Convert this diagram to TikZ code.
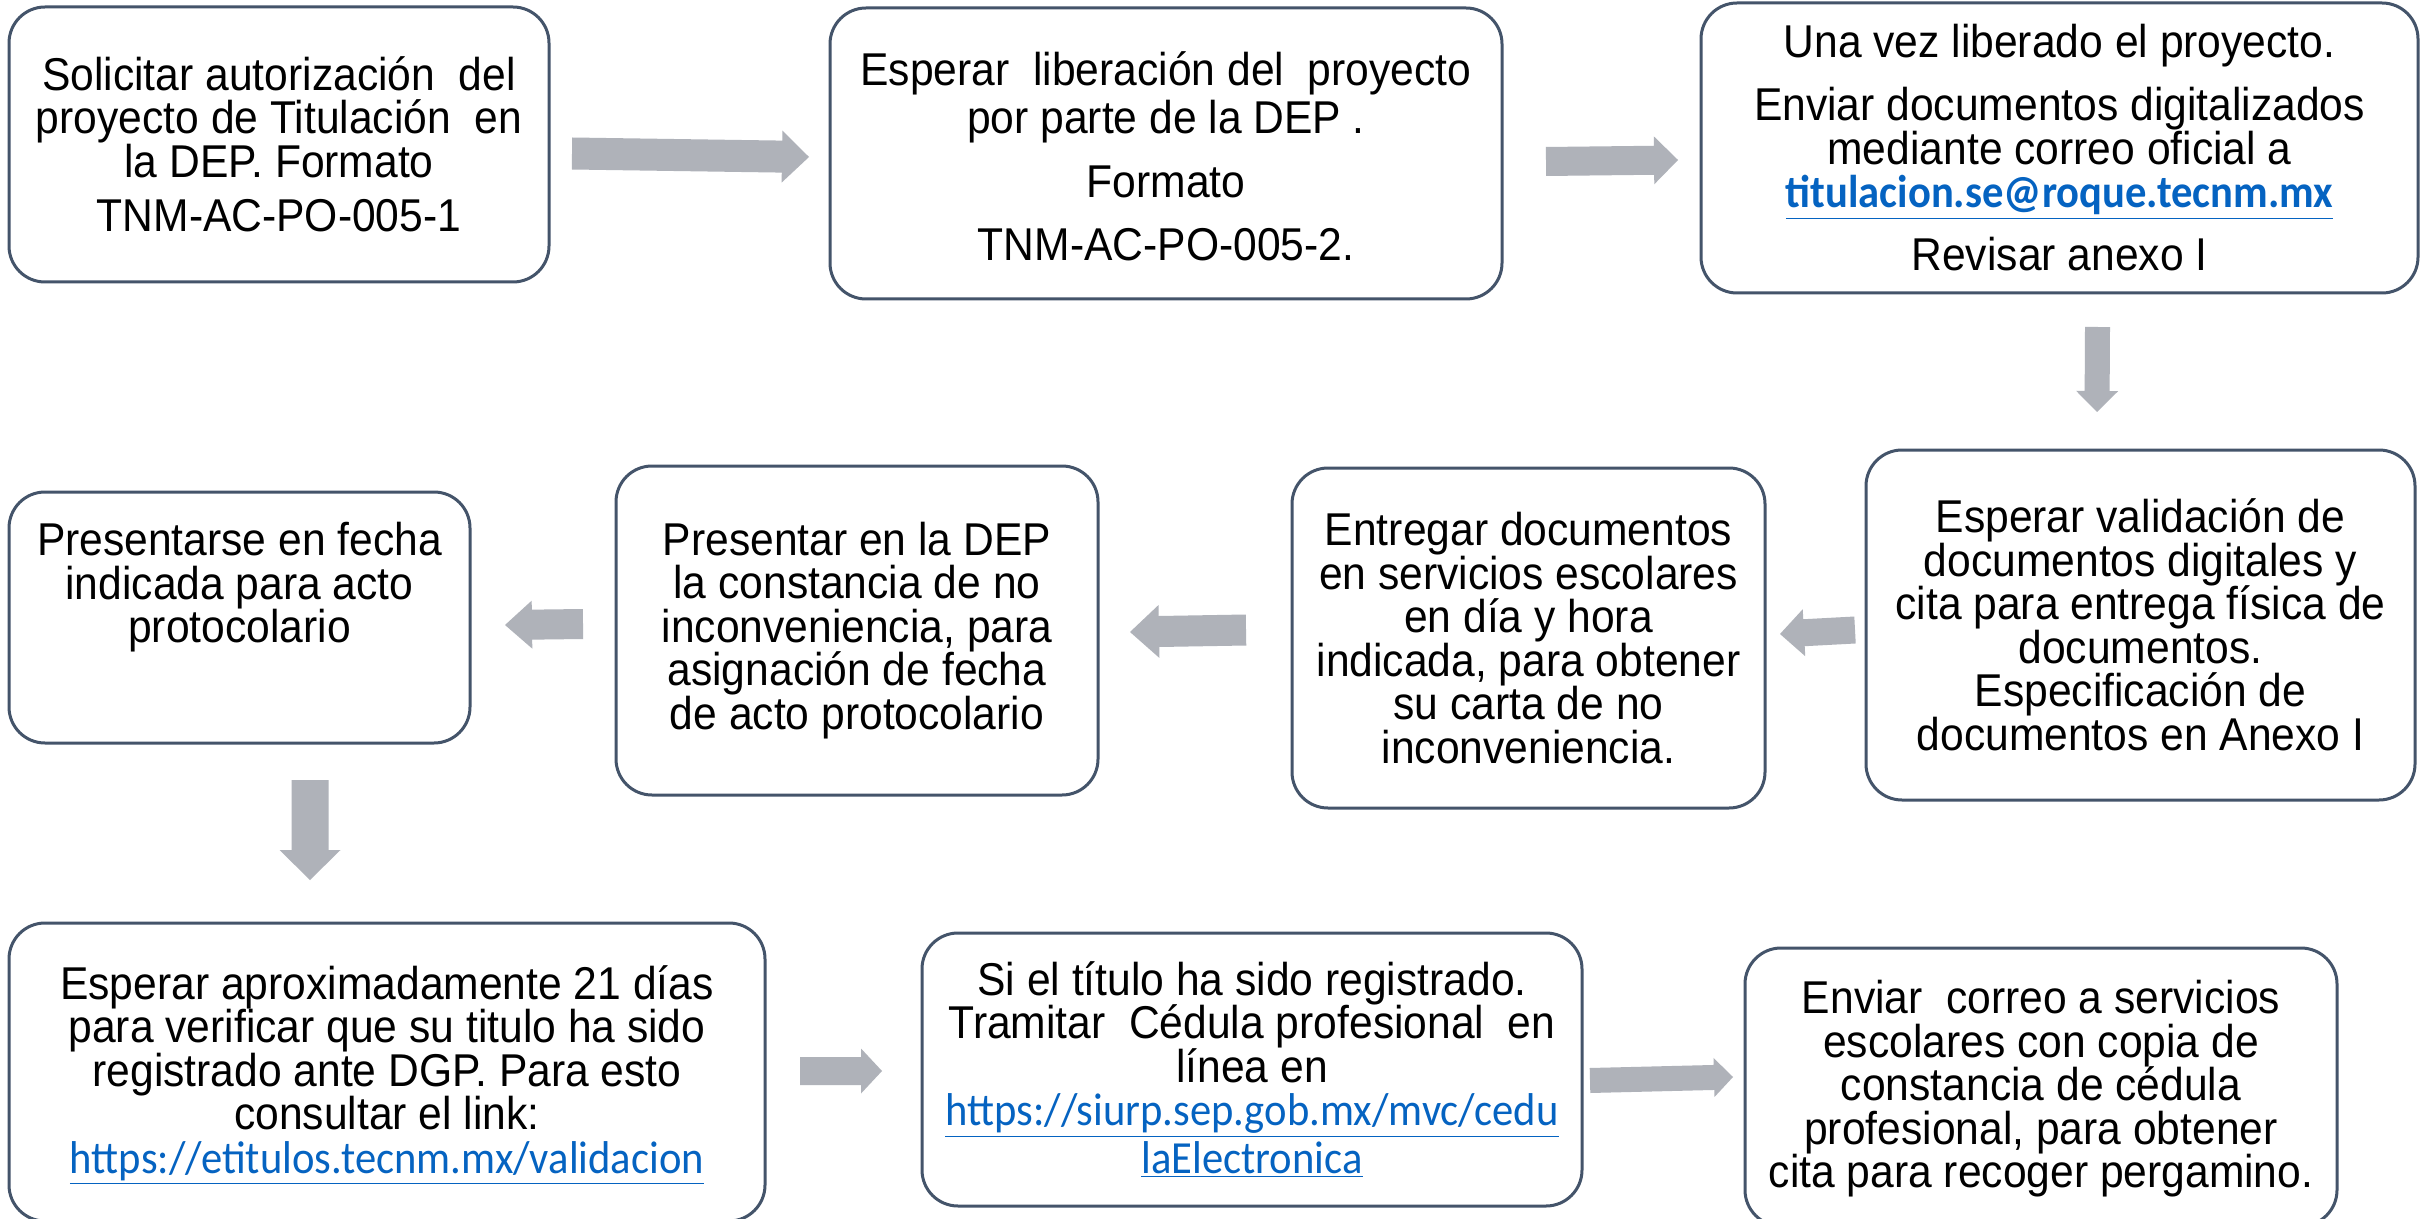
\documentclass[tikz,border=0pt]{standalone}
\usepackage{fontspec}
\setmainfont{Liberation Sans}[FakeStretch=0.926]
\newfontfamily\linkfont{Carlito}[FakeStretch=0.926]
\usetikzlibrary{calc}
\definecolor{boxline}{HTML}{44546A}
\definecolor{arrowgray}{HTML}{AFB2B9}
\definecolor{linkblue}{HTML}{0563C1}
\newcommand{\lnk}[1]{\textcolor{linkblue}{\underline{\linkfont #1}}}
\newcommand{\lnkb}[1]{\textcolor{linkblue}{\underline{\linkfont\bfseries #1}}}
\newcommand{\blockarrow}[5]{%
  \coordinate (ah) at ($(#2)!#5!(#1)$);
  \fill[arrowgray] ($(#1)!#3!90:(#2)$) -- ($(ah)!#3!90:(#2)$) -- ($(ah)!#4!90:(#2)$)
    -- (#2) -- ($(ah)!#4!-90:(#2)$) -- ($(ah)!#3!-90:(#2)$) -- ($(#1)!#3!-90:(#2)$) -- cycle;}
\newcommand{\tightlines}{\fontsize{23}{21.75}\selectfont\lineskiplimit=-30pt\relax}
\begin{document}
\begin{tikzpicture}[x=0.5pt,y=-0.5pt,
  box/.style={draw=boxline, line width=1.5pt, rounded corners=18pt, fill=white, inner sep=0pt},
  txt/.style={align=center, font=\tightlines, inner sep=0pt}]
\fill[white] (0,0) rectangle (2430,1219);
\useasboundingbox (0,0) rectangle (2430,1219);
% boxes
\node[box, minimum width=270pt, minimum height=137.5pt] (b1) at (279,144.5) {};
\node[box, minimum width=336pt, minimum height=145.5pt] (b2) at (1166,153.5) {};
\node[box, minimum width=358.5pt, minimum height=145pt] (b3) at (2059.5,148) {};
\node[box, minimum width=274.5pt, minimum height=175pt] (b4) at (2140.5,625) {};
\node[box, minimum width=236.5pt, minimum height=170pt] (b5) at (1528.5,638) {};
\node[box, minimum width=241pt, minimum height=164.5pt] (b6) at (857,630.5) {};
\node[box, minimum width=230.5pt, minimum height=125.5pt] (b7) at (239.5,617.5) {};
\node[box, minimum width=378pt, minimum height=149pt] (b8) at (387,1072) {};
\node[box, minimum width=330pt, minimum height=136.5pt] (b9) at (1252,1069.5) {};
\node[box, minimum width=296pt, minimum height=139pt] (b10) at (2041,1087) {};
% texts
\node[txt] (t1) at (b1.center) {Solicitar autorización\ \ del\\ proyecto de Titulación\ \ en\\ la DEP. Formato\\[5.5pt] TNM-AC-PO-005-1};
\node[txt] (t2) at ($(b2.center)+(0,3)$) {Esperar\ \ liberación del\ \ proyecto\\[2pt] por parte de la DEP .\\[10.5pt] Formato\\[9.5pt] TNM-AC-PO-005-2.};
\node[txt] (t3) at (b3.center) {Una vez liberado el proyecto.\\[9.75pt] Enviar documentos digitalizados\\ mediante correo oficial a\\ \lnkb{titulacion.se@roque.tecnm.mx}\\[9.75pt] Revisar anexo I};
\node[txt] (t4) at (b4.center) {Esperar validación de\\ documentos digitales y\\ cita para entrega física de\\ documentos.\\ Especificación de\\ documentos en Anexo I};
\node[txt] (t5) at (b5.center) {Entregar documentos\\ en servicios escolares\\ en día y hora\\ indicada, para obtener\\ su carta de no\\ inconveniencia.};
\node[txt] (t6) at (b6.center) {Presentar en la DEP\\ la constancia de no\\ inconveniencia, para\\ asignación de fecha\\ de acto protocolario};
\node[txt] (t7) at ($(b7.center)+(0,-30)$) {Presentarse en fecha\\ indicada para acto\\ protocolario};
\node[txt] (t8) at ($(b8.center)+(0,3)$) {Esperar aproximadamente 21 días\\ para verificar que su titulo ha sido\\ registrado ante DGP. Para esto\\ consultar el link:\\ \lnk{https://etitulos.tecnm.mx/validacion}};
\node[txt] (t9) at (b9.center) {Si el título ha sido registrado.\\ Tramitar\ \ Cédula profesional\ \ en\\ línea en\\ \lnk{https://siurp.sep.gob.mx/mvc/cedu}\\[2pt] \lnk{laElectronica}};
\node[txt] (t10) at ($(b10.center)+(0,2)$) {Enviar\ \ correo a servicios\\ escolares con copia de\\ constancia de cédula\\ profesional, para obtener\\ cita para recoger pergamino.};
% arrow end points
\coordinate (a1s) at (572,153.5);  \coordinate (a1e) at (809,157);
\coordinate (a2s) at (1546,161.5); \coordinate (a2e) at (1678,160);
\coordinate (a3s) at (2097.5,327); \coordinate (a3e) at (2097,412);
\coordinate (a4s) at (1855,630);   \coordinate (a4e) at (1780,634);
\coordinate (a5s) at (1246,630);   \coordinate (a5e) at (1130,632);
\coordinate (a6s) at (583,624);    \coordinate (a6e) at (505,625);
\coordinate (a7s) at (310,780);    \coordinate (a7e) at (310,880);
\coordinate (a8s) at (800,1071);   \coordinate (a8e) at (882,1071);
\coordinate (a9s) at (1590,1080.5); \coordinate (a9e) at (1733,1077);
\blockarrow{a1s}{a1e}{8pt}{13pt}{13.5pt}
\blockarrow{a2s}{a2e}{7.25pt}{12pt}{12pt}
\blockarrow{a3s}{a3e}{6.25pt}{10.5pt}{10.5pt}
\blockarrow{a4s}{a4e}{6.75pt}{11.75pt}{12pt}
\blockarrow{a5s}{a5e}{7.75pt}{13.25pt}{14.5pt}
\blockarrow{a6s}{a6e}{7.5pt}{12pt}{13.5pt}
\blockarrow{a7s}{a7e}{9.25pt}{15.25pt}{15pt}
\blockarrow{a8s}{a8e}{7pt}{11.25pt}{10.5pt}
\blockarrow{a9s}{a9e}{6.25pt}{9.75pt}{9.5pt}
\end{tikzpicture}
\end{document}
